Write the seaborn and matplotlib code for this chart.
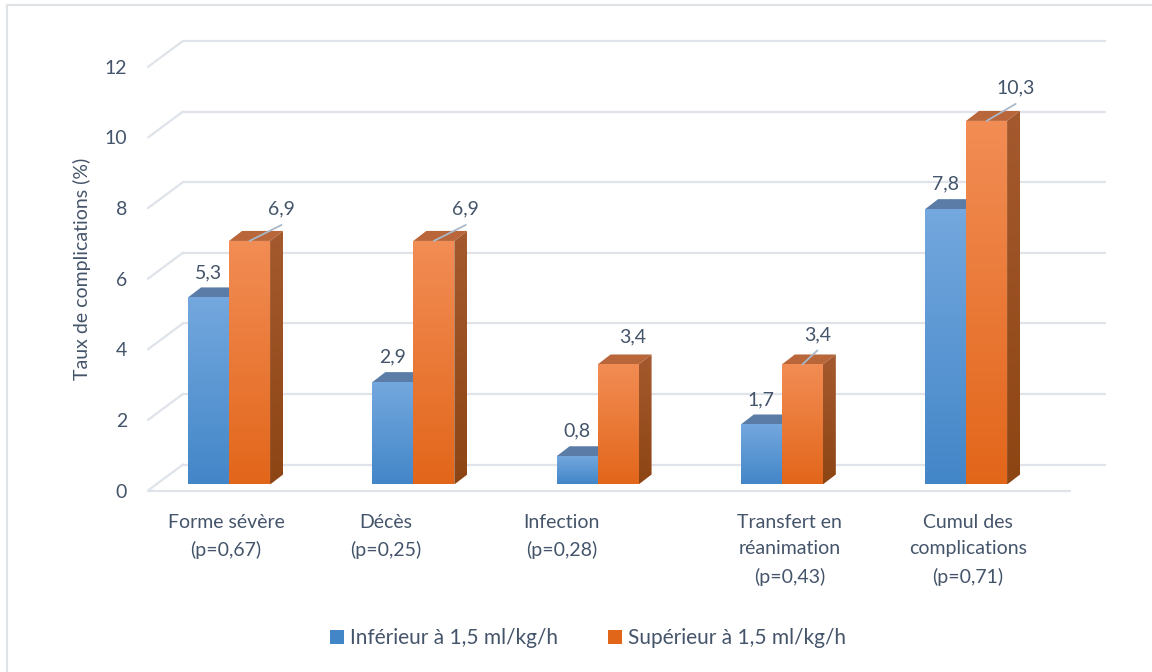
import numpy as np
import pandas as pd
import matplotlib
matplotlib.use("Agg")
import matplotlib.pyplot as plt
import matplotlib.colors as mcolors
from matplotlib.patches import Polygon, Patch
from matplotlib.lines import Line2D
from matplotlib.transforms import IdentityTransform, ScaledTranslation
import seaborn as sns

# data
categories = ["Forme sévère\n(p=0,67)", "Décès\n(p=0,25)", "Infection\n(p=0,28)",
              "Transfert en\nréanimation\n(p=0,43)", "Cumul des\ncomplications\n(p=0,71)"]
groups = ["Inférieur à 1,5 ml/kg/h", "Supérieur à 1,5 ml/kg/h"]
inferieur = [5.3, 2.9, 0.8, 1.7, 7.8]
superieur = [6.9, 6.9, 3.4, 3.4, 10.3]
y_ticks = [0, 2, 4, 6, 8, 10, 12]

df = pd.DataFrame({
    "categorie": categories * 2,
    "groupe": [groups[0]] * len(categories) + [groups[1]] * len(categories),
    "taux": inferieur + superieur,
})

# styling
txt_col = "#44546a"
grid_col = "#dfe3ea"
font = ["Lato", "DejaVu Sans"]
fs = 14
depth = (13, 10)          # bar depth in pixels (x, y)
back = (35, 20)           # back wall offset in pixels
front_dy = -6             # front floor edge below bar base, pixels
# (gradient top, gradient bottom, top face, side top, side bottom)
shades = [("#74a8de", "#4386c8", "#5a7ca6", "#3f6ea0", "#2f5c8c"),
          ("#f28d55", "#e2661a", "#b8663a", "#a45a2e", "#8e4514")]
orange_lbl = [(32, 32), (32, 32), (15, 28), (15, 30), (29, 33)]
orange_leader = [True, True, False, True, True]
xlabel_dx = [-3, -28, -36, 8, 2]

sns.set_theme(style="white")
plt.rcParams["font.family"] = font

fig = plt.figure(figsize=(11.52, 6.72), dpi=100)
W, H = 1152, 672
ax = fig.add_axes([148 / W, (H - 484.5) / H, 922 / W, (484.5 - 60.9) / H])

sns.barplot(data=df, x="categorie", y="taux", hue="groupe", ax=ax,
            palette=[s[1] for s in shades], width=0.445, saturation=1,
            legend=False, edgecolor="none", linewidth=0)

ax.set_xlim(-0.44, 4.564)
ax.set_ylim(0, 12)
ax.set_yticks(y_ticks, [str(t) for t in y_ticks])
ax.set_xticks(range(len(categories)), categories, linespacing=1.7)
for s in ax.spines.values():
    s.set_visible(False)
ax.grid(False)
ax.set_facecolor("none")
ax.tick_params(axis="both", length=0, colors=txt_col, labelsize=fs)
ax.tick_params(axis="y", pad=15)
ax.tick_params(axis="x", pad=21)
ax.set_xlabel("")
ax.set_ylabel("Taux de complications (%)", color=txt_col, fontsize=fs)
ax.yaxis.set_label_coords(-0.062, 0.51)

for lab in ax.get_yticklabels():
    lab.set_transform(lab.get_transform() + ScaledTranslation(0, front_dy / 100, fig.dpi_scale_trans))
for lab, dx in zip(ax.get_xticklabels(), xlabel_dx):
    lab.set_transform(lab.get_transform() + ScaledTranslation(dx / 100, 0, fig.dpi_scale_trans))

fig.canvas.draw()
ident = IdentityTransform()


def gradient_fill(patch, c_top, c_bot, z):
    ext = patch.get_path().transformed(patch.get_transform()).get_extents()
    cmap = mcolors.LinearSegmentedColormap.from_list("g", [c_bot, c_top])
    grad = np.linspace(0, 1, 256).reshape(-1, 1)
    im = ax.imshow(grad, cmap=cmap, aspect="auto", origin="lower",
                   extent=[ext.x0, ext.x1, ext.y0, ext.y1], transform=ident,
                   zorder=z, interpolation="bicubic")
    im.set_clip_path(patch)


# back wall grid, diagonals and front floor edge
(xl, y0), (xr, _) = ax.transData.transform([(ax.get_xlim()[0], 0), (ax.get_xlim()[1], 0)])
for t in y_ticks:
    yd = ax.transData.transform((0, t))[1]
    ax.add_line(Line2D([xl + back[0], xr + back[0]], [yd + back[1]] * 2, transform=ident,
                       color=grid_col, lw=1.6, zorder=0, clip_on=False))
    ax.add_line(Line2D([xl, xl + back[0]], [yd + front_dy, yd + back[1]], transform=ident,
                       color=grid_col, lw=1.6, zorder=0, clip_on=False))
ax.add_line(Line2D([xl, xr], [y0 + front_dy] * 2, transform=ident,
                   color=grid_col, lw=1.6, zorder=0, clip_on=False))

# 3D faces for each bar
dx, dy = depth
for k, cont in enumerate(ax.containers):
    c_top, c_bot, c_face, s_top, s_bot = shades[k]
    for i, bar in enumerate(cont):
        x0, yb = ax.transData.transform((bar.get_x(), 0))
        x1, yt = ax.transData.transform((bar.get_x() + bar.get_width(), bar.get_height()))
        zb = 2 + k * 2
        bar.set_zorder(zb)
        bar.set_facecolor("none")
        front = Polygon([(x0, yb), (x1, yb), (x1, yt), (x0, yt)], closed=True,
                        transform=ident, facecolor="none", edgecolor="none", zorder=zb)
        ax.add_patch(front)
        gradient_fill(front, c_top, c_bot, zb)
        top = Polygon([(x0, yt), (x1, yt), (x1 + dx, yt + dy), (x0 + dx, yt + dy)],
                      closed=True, transform=ident, facecolor=c_face, edgecolor="none",
                      zorder=zb - 0.5, clip_on=False)
        ax.add_patch(top)
        side = Polygon([(x1, yb), (x1 + dx, yb + dy), (x1 + dx, yt + dy), (x1, yt)],
                       closed=True, transform=ident, facecolor="none", edgecolor="none",
                       zorder=zb - 0.5, clip_on=False)
        ax.add_patch(side)
        gradient_fill(side, s_top, s_bot, zb - 0.5)

        xc = bar.get_x() + bar.get_width() / 2
        h = bar.get_height()
        val = f"{h:.1f}".replace(".", ",")
        if k == 0:
            ax.annotate(val, (xc, h), xytext=(0, 25), textcoords="offset pixels",
                        ha="center", va="center", color=txt_col, fontsize=fs, zorder=10)
        else:
            ox, oy = orange_lbl[i]
            ax.annotate(val, (xc, h), xytext=(ox, oy), textcoords="offset pixels",
                        ha="center", va="center", color=txt_col, fontsize=fs, zorder=10)
            if orange_leader[i]:
                ax.annotate("", (xc, h), xytext=(ox, oy - 16), textcoords="offset pixels",
                            arrowprops=dict(arrowstyle="-", color="#a9b8c9", lw=1.3,
                                            shrinkA=0, shrinkB=0), zorder=10)

# legend
handles = [Patch(facecolor=shades[0][1], edgecolor="none"),
           Patch(facecolor=shades[1][1], edgecolor="none")]
leg = fig.legend(handles, groups, loc="center", bbox_to_anchor=(588 / W, 1 - 638 / H),
                 ncol=2, frameon=False, fontsize=15, handlelength=0.65, handleheight=0.65,
                 handletextpad=0.3, columnspacing=2.4)
for t in leg.get_texts():
    t.set_color(txt_col)

# chart frame (left and top edges only visible)
fig.add_artist(Line2D([7 / W, 7 / W], [0, 1 - 5 / H], color="#dfe3e8", lw=1.5))
fig.add_artist(Line2D([7 / W, 1], [1 - 5 / H, 1 - 5 / H], color="#dfe3e8", lw=1.5))

fig.savefig("out.png", dpi=100)
